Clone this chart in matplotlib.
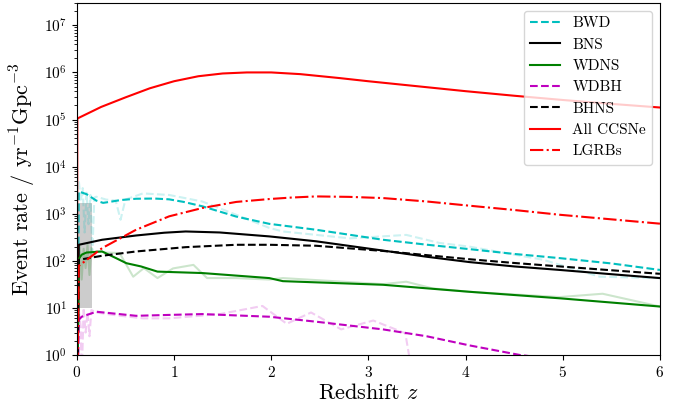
import numpy as np
import matplotlib
matplotlib.use("Agg")
import matplotlib.pyplot as plt

plt.rcParams['font.family'] = 'serif'
plt.rcParams['font.serif'] = ['cmr10']
plt.rcParams['mathtext.fontset'] = 'cm'
plt.rcParams['axes.formatter.use_mathtext'] = True
plt.rcParams['axes.unicode_minus'] = False

# All CCSNe
z_ccsn = [0.0, 0.005, 0.25, 0.5, 0.75, 1.0, 1.25, 1.5, 1.75, 2.0, 2.3, 2.7, 3.0, 3.5, 4.0, 4.5, 5.0, 5.5, 6.0]
r_ccsn = [1e-2, 1.05e5, 1.85e5, 2.95e5, 4.6e5, 6.5e5, 8.3e5, 9.5e5, 1.0e6, 1.0e6, 9.2e5, 7.6e5, 6.5e5, 5.1e5, 4.0e5, 3.2e5, 2.6e5, 2.15e5, 1.8e5]

# LGRBs
z_lgrb = [0.0, 0.02, 0.26, 0.61, 0.95, 1.29, 1.64, 1.98, 2.2, 2.46, 2.8, 3.15, 3.6, 4.04, 4.5, 4.97, 5.5, 6.0]
r_lgrb = [1e-2, 78, 186, 457, 880, 1320, 1780, 2050, 2200, 2330, 2280, 2150, 1820, 1480, 1200, 950, 760, 615]

# BWD (smoothed)
z_bwd = [0.0, 0.02, 0.1, 0.2, 0.27, 0.35, 0.45, 0.61, 0.8, 0.95, 1.1, 1.29, 1.64, 1.98, 2.46, 3.15, 3.6, 4.04, 4.5, 4.97, 5.5, 6.0]
r_bwd = [1e-2, 2970, 2600, 1900, 1700, 1800, 1950, 2080, 2100, 2020, 1780, 1440, 870, 610, 457, 280, 220, 177, 140, 114, 88, 64]

# BNS
z_bns = [0.0, 0.02, 0.26, 0.61, 0.9, 1.12, 1.47, 1.98, 2.46, 3.15, 3.6, 4.04, 4.5, 4.97, 5.5, 6.0]
r_bns = [1e-2, 219, 280, 345, 395, 420, 400, 330, 260, 165, 122, 94, 76, 64, 52, 43]

# BHNS
z_bhns = [0.0, 0.02, 0.26, 0.61, 1.12, 1.64, 1.98, 2.46, 3.15, 3.6, 4.04, 4.5, 4.97, 5.5, 6.0]
r_bhns = [1e-2, 105, 128, 158, 195, 219, 219, 209, 162, 132, 108, 90, 76, 63, 53]

# WDNS (smoothed)
z_wdns = [0.0, 0.02, 0.05, 0.1, 0.26, 0.4, 0.51, 0.66, 0.83, 1.29, 1.98, 2.12, 3.15, 4.04, 4.97, 6.0]
r_wdns = [1e-2, 110, 135, 150, 158, 115, 89, 76, 59, 55, 43, 37, 31, 22, 16, 10.7]

# WDBH (smoothed)
z_wdbh = [0.0, 0.02, 0.05, 0.2, 0.61, 0.95, 1.29, 1.98, 2.46, 3.15, 3.6, 4.04, 4.56, 5.2, 6.0]
r_wdbh = [1e-2, 5.6, 6.5, 8.3, 6.8, 7.1, 7.4, 6.5, 5.1, 3.5, 2.5, 1.6, 1.0, 0.7, 0.5]

# raw (faint) versions
z_bwd_raw = [0.0, 0.02, 0.04, 0.06, 0.08, 0.1, 0.12, 0.14, 0.16, 0.18, 0.2, 0.3, 0.4, 0.45, 0.5, 0.68, 0.95, 1.29, 1.64, 1.98, 2.12, 2.81, 3.39, 3.73, 4.04, 4.8, 5.38, 6.0]
r_bwd_raw = [1e-2, 5200, 1800, 3500, 400, 2800, 600, 2500, 150, 2200, 2300, 2000, 1900, 745, 2000, 2700, 2500, 1820, 950, 500, 420, 300, 355, 240, 200, 105, 46, 43]

z_wdns_raw = [0.0, 0.02, 0.03, 0.05, 0.07, 0.09, 0.11, 0.13, 0.15, 0.17, 0.2, 0.3, 0.44, 0.58, 0.69, 0.83, 0.99, 1.2, 1.34, 1.64, 1.98, 2.12, 3.15, 3.39, 3.66, 4.04, 4.97, 5.41, 6.0]
r_wdns_raw = [1e-2, 60, 200, 40, 180, 70, 220, 50, 190, 120, 160, 150, 146, 46, 70, 43, 69, 82, 43, 43, 40, 43, 32, 36, 26, 22, 17, 20, 10.7]

z_wdbh_raw = [0.0, 0.02, 0.04, 0.05, 0.07, 0.09, 0.11, 0.13, 0.15, 0.2, 0.4, 0.68, 0.95, 1.47, 1.91, 2.16, 2.41, 2.72, 3.05, 3.38, 3.5]
r_wdbh_raw = [1e-2, 9, 4, 0.3, 10, 3, 8, 2.5, 9, 8, 7, 6, 6, 7.4, 11, 4.6, 8, 3.5, 5.4, 2.9, 0.1]

# shaded region
z_box = [0.0, 0.16]
box_lo, box_hi = 10, 1700

fig, ax = plt.subplots(figsize=(6.86, 4.09), dpi=100)
fig.subplots_adjust(left=0.112, right=0.962, bottom=0.132, top=0.993)

ax.fill_between(z_box, box_lo, box_hi, color='gray', alpha=0.4, lw=0)

ax.plot(z_bwd_raw, r_bwd_raw, 'c--', lw=1.5, alpha=0.2)
ax.plot(z_wdns_raw, r_wdns_raw, 'g-', lw=1.5, alpha=0.2)
ax.plot(z_wdbh_raw, r_wdbh_raw, 'm--', lw=1.5, alpha=0.2)

ax.plot(z_bwd, r_bwd, 'c--', lw=1.5, label='BWD')
ax.plot(z_bns, r_bns, 'k-', lw=1.5, label='BNS')
ax.plot(z_wdns, r_wdns, 'g-', lw=1.5, label='WDNS')
ax.plot(z_wdbh, r_wdbh, 'm--', lw=1.5, label='WDBH')
ax.plot(z_bhns, r_bhns, 'k--', lw=1.5, label='BHNS')
ax.plot(z_ccsn, r_ccsn, 'r-', lw=1.5, label='All CCSNe')
ax.plot(z_lgrb, r_lgrb, 'r-.', lw=1.5, label='LGRBs')

ax.set_yscale('log')
ax.set_xlim(0, 6)
ax.set_ylim(1, 3e7)
ax.set_xlabel(r'Redshift $z$', fontsize=16, labelpad=2)
ax.set_ylabel(r'Event rate / yr$^{-1}$Gpc$^{-3}$', fontsize=16)
ax.tick_params(labelsize=11)
ax.legend(loc='upper right', fontsize=11)

fig.savefig('out.png', dpi=100)
